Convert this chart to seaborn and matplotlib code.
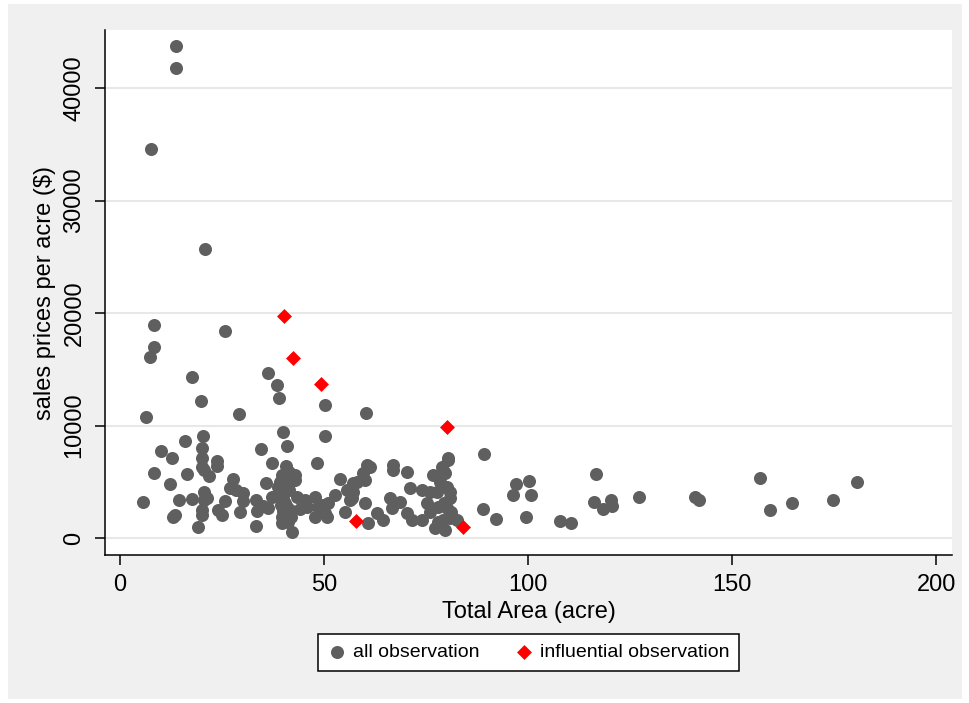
import matplotlib
matplotlib.use("Agg")
import matplotlib.pyplot as plt
import seaborn as sns
import pandas as pd
from matplotlib.patches import Rectangle

# ---- data ----
area_all = [
    13.7, 13.7, 7.6, 20.8, 8.3, 25.7, 8.3, 7.4, 17.6, 36.3,
    38.5, 39.0, 19.9, 50.2, 6.4, 29.2, 60.3, 50.2, 40.0, 89.2,
    15.9, 10.0, 12.7, 20.3, 20.1, 20.1, 20.1, 20.6, 21.8, 23.8,
    23.8, 8.3, 16.4, 12.3, 27.7, 27.0, 28.4, 30.1, 5.6, 14.5,
    17.6, 20.6, 20.6, 21.3, 20.1, 20.1, 13.0, 13.5, 19.1, 24.0,
    25.0, 25.7, 29.4, 30.1, 33.3, 33.3, 35.0, 33.6, 34.6, 40.9,
    37.3, 40.7, 42.9, 39.7, 39.2, 40.9, 42.9, 35.8, 48.3, 37.3,
    36.3, 39.2, 40.0, 40.9, 43.4, 45.3, 47.8, 48.5, 47.8, 49.8,
    39.7, 41.2, 42.2, 39.7, 40.0, 41.7, 45.8, 49.5, 51.0, 52.7,
    50.7, 55.1, 53.9, 55.6, 57.1, 56.9, 60.5, 59.6, 60.0, 58.0,
    57.1, 56.4, 61.3, 66.9, 66.9, 70.3, 60.0, 62.9, 64.5, 60.8,
    66.2, 66.7, 68.6, 71.1, 70.3, 71.6, 74.0, 74.0, 76.0, 75.2,
    77.7, 77.9, 76.0, 80.4, 80.4, 78.9, 79.7, 76.7, 78.4, 80.1,
    80.9, 80.9, 80.1, 77.9, 77.2, 79.2, 80.9, 82.6, 79.7, 79.2,
    78.4, 89.0, 92.2, 97.1, 100.2, 96.3, 100.7, 99.5, 107.8, 110.5,
    116.7, 116.2, 118.4, 120.3, 120.6, 127.2, 140.9, 141.9, 156.9, 159.3,
    164.7, 174.8, 180.6, 50.2, 40.3, 41.5, 39.5, 42.0, 38.8, 41.3,
    79.5, 81.0, 44.2,
]
price_all = [
    43740, 41780, 34580, 25690, 18940, 18400, 16980, 16090, 14310, 14670,
    13600, 12450, 12180, 11820, 10760, 11020, 11110, 9070, 9420, 7470,
    8620, 7730, 7110, 9070, 8000, 7110, 6310, 6050, 5510, 6850,
    6400, 5780, 5690, 4800, 5250, 4450, 4270, 4000, 3200, 3380,
    3470, 4090, 3380, 3560, 2490, 2040, 1870, 2040, 980, 2490,
    2040, 3290, 2310, 3290, 1070, 3380, 2840, 2400, 7910, 8180,
    6670, 6400, 5600, 5600, 4980, 4890, 5160, 4890, 6670, 3640,
    2670, 4000, 3560, 2760, 3640, 3380, 3640, 2760, 1870, 2310,
    1870, 1420, 530, 1330, 2400, 2490, 2760, 2930, 3110, 3820,
    1870, 2310, 5250, 4270, 4890, 3560, 6490, 5780, 5160, 4980,
    4090, 3380, 6310, 6490, 6050, 5870, 3110, 2220, 1600, 1330,
    3560, 2670, 3200, 4450, 2220, 1600, 4270, 1600, 4090, 3110,
    4090, 2760, 2310, 6930, 7110, 6310, 5780, 5600, 4980, 4530,
    4090, 3560, 2670, 1420, 890, 1600, 1780, 1600, 710, 6050,
    5420, 2580, 1690, 4800, 5070, 3820, 3820, 1870, 1510, 1330,
    5690, 3200, 2580, 3380, 2840, 3640, 3640, 3380, 5330, 2490,
    3110, 3380, 4980, 2220, 3100, 4300, 2900, 1900, 4500, 5900,
    3100, 2300, 2600,
]
area_infl = [40.1, 42.3, 49.3, 80.1, 57.7, 84.0]
price_infl = [19740, 15970, 13660, 9840, 1510, 950]

x_ticks = [0, 50, 100, 150, 200]
y_ticks = [0, 10000, 20000, 30000, 40000]

label_all = "all observation"
label_infl = "influential observation"
x_title = "Total Area (acre)"
y_title = "sales prices per acre ($)"

# ---- style ----
sns.set_theme(style="ticks")
plt.rcParams['font.family'] = ['Liberation Sans', 'DejaVu Sans']
plt.rcParams['text.color'] = 'black'
plt.rcParams['axes.labelcolor'] = 'black'

W, H = 970, 703
fig = plt.figure(figsize=(W / 100, H / 100), dpi=100, facecolor='white')
bg = Rectangle((8 / W, 4 / H), 954 / W, 695 / H, transform=fig.transFigure,
               facecolor='#f0f0f0', edgecolor='none', zorder=-10)
fig.patches.append(bg)
ax = fig.add_axes([105 / W, 1 - 555 / H, 847 / W, 525 / H])
ax.set_zorder(1)
ax.set_facecolor('white')

df_all = pd.DataFrame({'area': area_all, 'price': price_all})
df_inf = pd.DataFrame({'area': area_infl, 'price': price_infl})

sns.scatterplot(data=df_all, x='area', y='price', ax=ax, color='#5f5f5f',
                marker='o', s=88, linewidth=0, label=label_all, zorder=3)
sns.scatterplot(data=df_inf, x='area', y='price', ax=ax, color='#ff0000',
                marker='D', s=58, linewidth=0, label=label_infl, zorder=4)

ax.set_xlim(-3.7, 203.9)
ax.set_ylim(-1510, 45160)
ax.set_xticks(x_ticks)
ax.set_yticks(y_ticks)
ax.set_xticklabels([str(t) for t in x_ticks])
ax.set_yticklabels([str(t) for t in y_ticks], rotation=90, va='center')

ax.grid(axis='y', color='#e8e8e8', linewidth=1.5)
ax.grid(axis='x', visible=False)
ax.set_axisbelow(True)
for s in ['top', 'right']:
    ax.spines[s].set_visible(False)
for s in ['left', 'bottom']:
    ax.spines[s].set_color('black')
    ax.spines[s].set_linewidth(1.1)
ax.tick_params(direction='out', length=7, width=1.1, color='black',
               labelsize=17, pad=7, labelcolor='black', bottom=True, left=True)

ax.set_xlabel(x_title, fontsize=17, labelpad=3, color='black')
ax.set_ylabel(y_title, fontsize=17, color='black')
ax.yaxis.set_label_coords(-0.058, 0.5)

h, l = ax.get_legend_handles_labels()
if ax.get_legend() is not None:
    ax.get_legend().remove()
leg = fig.legend(h, l, loc='upper center', bbox_to_anchor=(529 / W, 1 - 634 / H),
                 ncol=2, frameon=True, fancybox=False, edgecolor='black',
                 framealpha=1, facecolor='white', fontsize=14, handlelength=0.9,
                 handletextpad=0.4, columnspacing=1.8, borderpad=0.5,
                 borderaxespad=0)
leg.get_frame().set_linewidth(1.1)
for t in leg.get_texts():
    t.set_color('black')

fig.savefig('out.png', dpi=100, facecolor=fig.get_facecolor())
